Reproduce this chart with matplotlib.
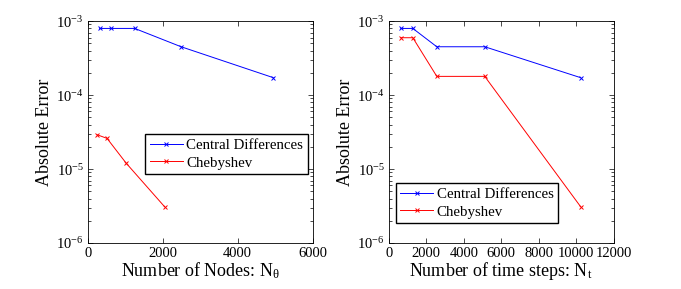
import matplotlib
matplotlib.use("Agg")
import matplotlib.pyplot as plt

plt.rcParams['font.family'] = ['Liberation Serif', 'DejaVu Serif']
plt.rcParams['mathtext.fontset'] = 'custom'
plt.rcParams['mathtext.rm'] = 'Liberation Serif'
plt.rcParams['mathtext.it'] = 'Liberation Serif:italic'

# left panel: error vs number of nodes
nodes_cd = [315, 630, 1250, 2490, 4950]
err_nodes_cd = [7.96e-4, 7.96e-4, 7.96e-4, 4.5e-4, 1.72e-4]
nodes_cheb = [256, 512, 1024, 2048]
err_nodes_cheb = [2.9e-5, 2.6e-5, 1.2e-5, 3.1e-6]

# right panel: error vs number of time steps
steps = [640, 1280, 2560, 5120, 10240]
err_steps_cd = [7.96e-4, 7.96e-4, 4.5e-4, 4.5e-4, 1.72e-4]
err_steps_cheb = [5.96e-4, 5.96e-4, 1.79e-4, 1.79e-4, 3.1e-6]

labels = ["Central Differences", "Chebyshev"]

fig = plt.figure(figsize=(6.81, 2.89), dpi=100)
ax1 = fig.add_axes([0.129, 0.159, 0.330, 0.768])
ax2 = fig.add_axes([0.571, 0.159, 0.330, 0.768])

def style(ax):
    ax.set_yscale('log')
    ax.set_ylim(1e-6, 1e-3)
    ax.tick_params(which='both', direction='in', top=True, right=True, labelsize=10.5, width=0.5)
    ax.tick_params(which='major', length=3.5, pad=3)
    ax.tick_params(which='minor', length=2)
    for s in ax.spines.values():
        s.set_linewidth(0.6)
    ax.set_ylabel("Absolute Error", fontsize=13, labelpad=2)

kw = dict(marker='x', markersize=3.5, linewidth=0.7, markeredgewidth=0.7)
leg_kw = dict(loc='lower left', borderaxespad=0, fontsize=10.7, fancybox=False,
              edgecolor='black', framealpha=1, handlelength=2.2, borderpad=0.3,
              labelspacing=0.3, handletextpad=0.25)

ax1.plot(nodes_cd, err_nodes_cd, color='blue', label=labels[0], **kw)
ax1.plot(nodes_cheb, err_nodes_cheb, color='red', label=labels[1], **kw)
style(ax1)
ax1.set_xlim(0, 6000)
ax1.set_xticks([0, 2000, 4000, 6000])
ax1.set_xlabel("Number of Nodes: N$_\\mathrm{θ}$", fontsize=13, labelpad=0)
ax1.legend(bbox_to_anchor=(0.256, 0.311), **leg_kw)

ax2.plot(steps, err_steps_cd, color='blue', label=labels[0], **kw)
ax2.plot(steps, err_steps_cheb, color='red', label=labels[1], **kw)
style(ax2)
ax2.set_xlim(0, 12000)
ax2.set_xticks(range(0, 12001, 2000))
ax2.set_xlabel(r"Number of time steps: N$_\mathrm{t}$", fontsize=13, labelpad=0)
ax2.legend(bbox_to_anchor=(0.031, 0.09), **leg_kw)

fig.savefig("out.png", dpi=100)
